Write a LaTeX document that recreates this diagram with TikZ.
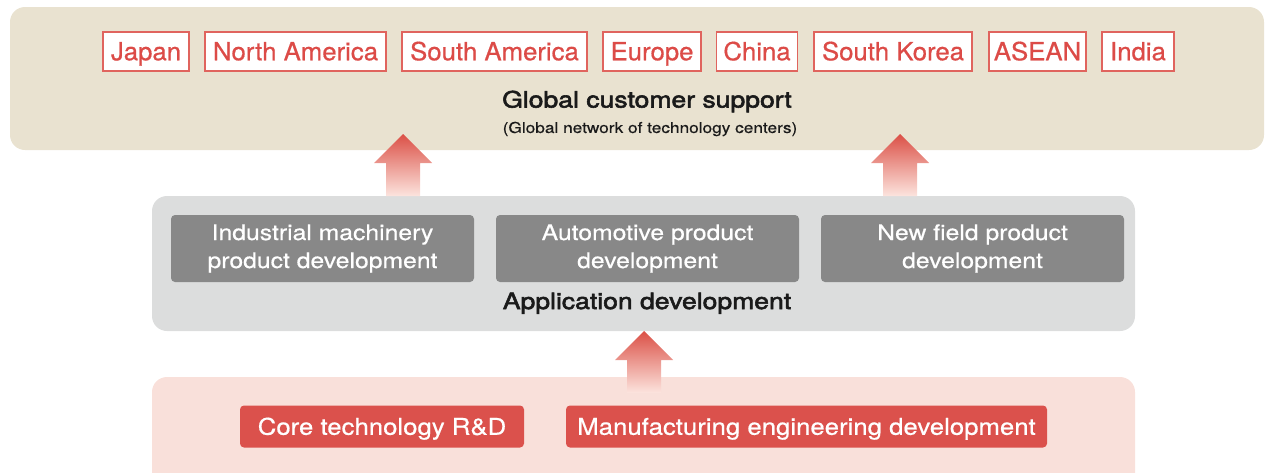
\documentclass[tikz,border=0pt]{standalone}
\usepackage{fontspec}
\setmainfont{TeX Gyre Heros}
\newfontfamily\regfont{TeX Gyre Heros}[FakeStretch=1.03,FakeBold=0.6]
\newfontfamily\labfont{TeX Gyre Heros}[FakeStretch=1.18,FakeBold=2.5]
\newfontfamily\subfont{TeX Gyre Heros}[FakeStretch=1.15,FakeBold=0.3]
\newfontfamily\grayfont{TeX Gyre Heros}[FakeStretch=1.15,FakeBold=0.6]
\newfontfamily\redfont{TeX Gyre Heros}[FakeStretch=1.12,FakeBold=0.6]
\definecolor{topbg}{HTML}{E9E2D0}
\definecolor{midbg}{HTML}{DCDDDD}
\definecolor{botbg}{HTML}{F9E0DA}
\definecolor{regline}{HTML}{E0645E}
\definecolor{regtext}{HTML}{DC4B47}
\definecolor{graybox}{HTML}{888888}
\definecolor{redbox}{HTML}{DB514C}
\definecolor{arrtop}{HTML}{DB5046}
\definecolor{arrbot}{HTML}{FCE4DE}
\definecolor{darktext}{HTML}{1A1A1A}
\tikzset{
  panel/.style={rounded corners=15pt, inner sep=0pt, draw=none},
  region/.style={draw=regline, line width=1.5pt, fill=white, inner sep=0pt,
    minimum height=39pt, text height=17.5pt, text depth=0pt,
    text=regtext, font=\regfont\fontsize{25}{28}\selectfont},
  biglabel/.style={inner sep=0pt, text=darktext, text height=16pt, text depth=0pt,
    font=\labfont\fontsize{22.5}{26}\selectfont},
  sublabel/.style={inner sep=0pt, text=darktext, font=\subfont\fontsize{15}{18}\selectfont},
  graybx/.style={fill=graybox, rounded corners=4pt, inner sep=0pt, text=white,
    minimum width=303pt, minimum height=67pt, align=center,
    font=\grayfont\fontsize{21.5}{28}\selectfont},
  redbx/.style={fill=redbox, rounded corners=4pt, inner sep=0pt, text=white,
    minimum height=42pt, text height=16.5pt, text depth=0pt,
    font=\redfont\fontsize{23}{27}\selectfont},
  uparrow/.pic={\shade[top color=arrtop, bottom color=arrbot]
    (0,0) -- (29,29) -- (17,29) -- (17,62) -- (-17,62) -- (-17,29) -- (-29,29) -- cycle;}
}
\begin{document}
\begin{tikzpicture}[x=1pt,y=-1pt]
\useasboundingbox (0,0) rectangle (1265,472);
\clip (0,0) rectangle (1265,472);
% panels
\node[panel, fill=topbg, minimum width=1254pt, minimum height=143pt] (top) at (637,78.5) {};
\node[panel, fill=midbg, minimum width=983pt, minimum height=135pt] (mid) at (643.5,263.5) {};
\node[panel, fill=botbg, minimum width=983pt, minimum height=123pt] (bot) at (643.5,438.5) {};
% regions
\node[region, minimum width=86pt] (jp) at (146,51.5) {Japan};
\node[region, minimum width=181pt] (na) at (295.5,51.5) {North America};
\node[region, minimum width=185pt] (sa) at (494.5,51.5) {South America};
\node[region, minimum width=98pt] (eu) at (652,51.5) {Europe};
\node[region, minimum width=81pt] (cn) at (757,51.5) {China};
\node[region, minimum width=158pt] (kr) at (893,51.5) {South Korea};
\node[region, minimum width=97pt] (as) at (1037.5,51.5) {ASEAN};
\node[region, minimum width=72pt] (in) at (1138,51.5) {India};
\node[biglabel] (gcs) at (647,99.5) {Global customer support};
\node[sublabel] (gnt) at (650,129) {(Global network of technology centers)};
% application development
\node[graybx] (ind) at (322.5,248.5) {Industrial machinery\\product development};
\node[graybx] (aut) at (647.5,248.5) {Automotive product\\development};
\node[graybx] (nfp) at (972.5,248.5) {New field product\\development};
\node[biglabel] (app) at (647,301) {Application development};
% core
\node[redbx, minimum width=284pt] (core) at (382,426.5) {Core technology R\&D};
\node[redbx, minimum width=481pt] (mfg) at (806.5,426.5) {Manufacturing engineering development};
% arrows
\pic (a1) at (403,134) {uparrow};
\pic (a2) at (900,134) {uparrow};
\pic (a3) at (644,331) {uparrow};
\end{tikzpicture}
\end{document}
